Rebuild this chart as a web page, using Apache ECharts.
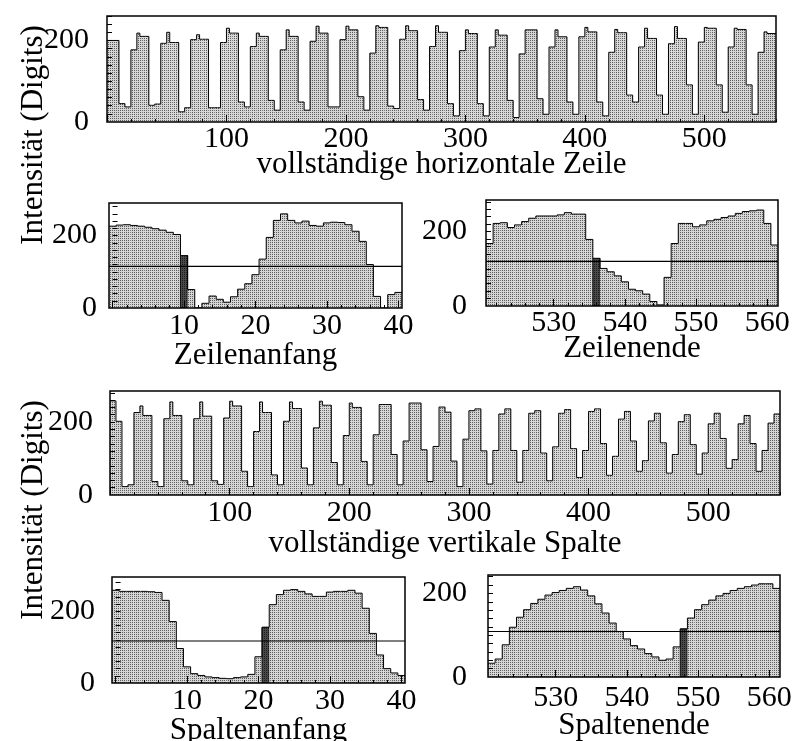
<!DOCTYPE html>
<html>
<head>
<meta charset="utf-8">
<script src="https://cdn.jsdelivr.net/npm/echarts@6/dist/echarts.min.js"></script>
<style>
  html, body { margin: 0; padding: 0; background: #fff; }
  #chart { width: 800px; height: 741px; }
</style>
</head>
<body>
<div id="chart"></div>
<script>
// ---------------------------------------------------------------
// Intensity profiles (digits) of a test pattern, CCD line / column
// ---------------------------------------------------------------

// full horizontal line, bins of 2.5 pixel columns (0 ... 560)
const zeileBinBreite = 2.5;
const zeileWerte = [
  200,200,200,200,45,45,37,37,
  177,177,218,210,210,210,41,41,44,44,
  193,193,220,195,195,195,25,25,35,35,
  202,202,214,203,203,203,35,35,35,35,
  195,195,230,218,218,218,49,49,37,37,
  185,185,218,210,210,210,53,53,29,29,
  177,177,226,210,210,210,49,49,29,29,
  198,198,235,218,218,218,37,37,37,37,
  202,202,235,226,226,226,62,62,29,29,
  169,169,236,232,232,232,39,39,33,33,
  203,203,236,224,224,224,55,55,29,29,
  185,185,236,220,220,220,45,45,15,15,
  175,175,226,217,217,217,45,45,15,15,
  184,184,226,213,213,213,53,53,11,11,
  167,167,226,226,226,226,57,57,19,19,
  184,184,226,209,209,209,49,49,19,19,
  209,209,232,221,221,221,49,49,15,15,
  171,171,227,219,219,219,66,66,49,49,
  184,184,230,205,205,205,66,66,19,19,
  192,192,234,205,205,205,91,91,19,19,
  196,196,232,230,230,230,91,91,24,24,
  184,184,230,227,227,227,91,91,19,19,
  171,171,221,217,217,217
];

// full vertical column, bins of 2.5 pixel rows (0 ... 560)
const spalteBinBreite = 2.5;
const spalteWerte = [
  258,258,202,202,23,23,28,28,
  226,226,244,218,218,218,37,37,23,23,
  209,209,255,218,218,218,39,39,28,28,
  209,209,255,216,216,216,39,39,29,29,
  211,211,257,244,244,244,65,65,23,23,
  174,174,255,226,226,226,55,55,28,28,
  202,202,255,237,237,237,74,74,28,28,
  184,184,257,246,246,246,89,89,28,28,
  163,163,252,240,240,240,92,92,28,28,
  165,165,248,248,248,248,111,111,28,28,
  148,148,252,252,252,252,124,124,37,37,
  133,133,241,241,227,227,93,93,23,23,
  153,153,231,231,236,236,121,121,30,30,
  122,122,222,222,236,236,122,122,35,35,
  122,122,224,224,231,231,115,115,39,39,
  132,132,224,224,234,234,127,127,48,48,
  122,122,229,229,236,236,141,141,54,54,
  106,106,208,208,229,229,148,148,65,65,
  94,94,203,203,224,224,143,143,60,60,
  111,111,201,201,220,220,138,138,57,57,
  115,115,195,195,224,224,155,155,73,73,
  97,97,195,195,218,218,141,141,65,65,
  122,122,197,197,222,222
];

// line start, pixels 0 ... 40 (one bin per pixel)
const zeilenanfangStart = 0;
const zeilenanfangWerte = [226,229,230,228,226,223,219,215,209,203,145,51,0,13,33,24,16,31,52,67,92,
  135,195,242,260,242,235,240,228,226,235,237,236,230,212,184,120,32,0,37,43];
const zeilenanfangKante = 10;      // detected edge pixel (index)
const zeilenanfangSchwelle = 115;

// line end, pixels 521 ... 561
const zeilenendeStart = 521;
const zeilenendeWerte = [168,222,224,211,218,227,236,242,242,242,245,251,247,247,179,128,101,92,81,65,45,
  41,32,12,3,77,168,222,222,213,218,229,233,238,242,249,254,256,258,222,164];
const zeilenendeKante = 15;
const zeilenendeSchwelle = 120;

// column start, pixels 0 ... 40
const spaltenanfangStart = 0;
const spaltenanfangWerte = [258,255,255,255,255,254,252,230,171,96,45,26,21,17,15,13,12,15,17,24,73,
  155,218,246,258,260,255,248,241,241,253,255,255,258,250,208,138,78,40,28,21];
const spaltenanfangKante = 21;
const spaltenanfangSchwelle = 117;

// column end, pixels 521 ... 561
const spaltenendeStart = 521;
const spaltenendeWerte = [33,43,77,119,143,161,176,186,196,202,207,212,216,208,194,175,153,129,109,91,75,
  67,56,48,40,43,72,115,141,161,173,184,194,200,207,212,216,220,223,223,212];
const spaltenendeKante = 27;
const spaltenendeSchwelle = 109;

// tick labels
const langLabels = [100, 200, 300, 400, 500];
const anfangLabels = [10, 20, 30, 40];
const endeLabels = [530, 540, 550, 560];
const yLabels = [0, 200];

// ---------------------------------------------------------------
const FONT = '"Liberation Serif", "Times New Roman", serif';

function stipple(bg, dot) {
  const c = document.createElement('canvas');
  c.width = 4; c.height = 4;
  const g = c.getContext('2d');
  g.fillStyle = bg; g.fillRect(0, 0, 4, 4);
  g.fillStyle = dot;
  g.fillRect(0, 0, 1, 1); g.fillRect(2, 2, 1, 1);
  g.fillRect(2, 0, 1, 1); g.fillRect(0, 2, 1, 1);
  return { image: c, repeat: 'repeat' };
}
const hellFill = stipple('#d4d4d4', '#5c5c5c');
const dunkelFill = stipple('#4a4a4a', '#1a1a1a');

function range(from, to, step) {
  const out = [];
  for (let v = from; v <= to + 1e-9; v += step) out.push(+v.toFixed(4));
  return out;
}

// histogram drawn as filled bins with a step outline
function histogram(axis, first, width, values, marked) {
  return {
    type: 'custom',
    coordinateSystem: 'cartesian2d',
    xAxisIndex: axis, yAxisIndex: axis,
    clip: true,
    silent: true,
    z: 1,
    data: values.map((v, i) => [first + i * width, v]),
    renderItem(params, api) {
      const i = params.dataIndex;
      const x = api.value(0), v = api.value(1);
      const h = width / 2;
      const tl = api.coord([x - h, v]);
      const br = api.coord([x + h, 0]);
      const kids = [{
        type: 'rect',
        shape: { x: tl[0], y: tl[1], width: br[0] - tl[0], height: br[1] - tl[1] },
        style: { fill: i === marked ? dunkelFill : hellFill, stroke: null }
      }, {
        type: 'line',
        shape: { x1: tl[0], y1: tl[1], x2: br[0], y2: tl[1] },
        style: { stroke: '#000', lineWidth: 1 }
      }];
      if (i > 0) {
        const p = api.coord([x - h, values[i - 1]]);
        kids.push({
          type: 'line',
          shape: { x1: tl[0], y1: p[1], x2: tl[0], y2: tl[1] },
          style: { stroke: '#000', lineWidth: 1 }
        });
      }
      if (i === marked) {
        kids.push({
          type: 'rect',
          shape: { x: tl[0], y: tl[1], width: br[0] - tl[0], height: br[1] - tl[1] },
          style: { fill: null, stroke: '#111', lineWidth: 1 }
        });
      }
      return { type: 'group', children: kids };
    }
  };
}

function schwelle(axis, xmin, xmax, t) {
  return {
    type: 'line', xAxisIndex: axis, yAxisIndex: axis, silent: true,
    symbol: 'none', z: 5,
    lineStyle: { color: '#000', width: 1.1 },
    data: [[xmin, t], [xmax, t]]
  };
}

const panels = [
  { grid: { left: 107, top: 16, width: 669, height: 106 }, x: [0, 560], y: [0, 260],
    labels: langLabels, major: range(0, 560, 100), minor: range(0, 560, 20),
    name: 'vollständige horizontale Zeile', gap: 27, lblMargin: 2, yMargin: 18 },
  { grid: { left: 109, top: 203, width: 293, height: 105 }, x: [-0.5, 40.5], y: [0, 290],
    labels: anfangLabels, major: range(0, 40, 10), minor: range(0, 40, 2),
    name: 'Zeilenanfang', gap: 32, lblMargin: 3, yMargin: 12 },
  { grid: { left: 486, top: 200, width: 292, height: 106 }, x: [520.5, 561.5], y: [0, 285],
    labels: endeLabels, major: range(530, 560, 10), minor: range(522, 560, 2),
    name: 'Zeilenende', gap: 27, lblMargin: 2, yMargin: 19 },
  { grid: { left: 110, top: 391, width: 670, height: 104 }, x: [0, 560], y: [0, 285],
    labels: langLabels, major: range(0, 560, 100), minor: range(0, 560, 20),
    name: 'vollständige vertikale Spalte', gap: 33, lblMargin: 3, yMargin: 17 },
  { grid: { left: 112, top: 577, width: 293, height: 106 }, x: [-0.5, 40.5], y: [0, 295],
    labels: anfangLabels, major: range(0, 40, 10), minor: range(0, 40, 2),
    name: 'Spaltenanfang', gap: 32, lblMargin: 3, yMargin: 17 },
  { grid: { left: 488, top: 575, width: 292, height: 102 }, x: [520.5, 561.5], y: [0, 244],
    labels: endeLabels, major: range(530, 560, 10), minor: range(522, 560, 2),
    name: 'Spaltenende', gap: 33, lblMargin: 6, yMargin: 21 }
];

const grids = [], xAxes = [], yAxes = [];
panels.forEach((p, k) => {
  grids.push(Object.assign({ show: true, borderColor: '#000', borderWidth: 1.5,
    backgroundColor: 'transparent', z: 8, outerBoundsMode: 'none', containLabel: false }, p.grid));
  xAxes.push({
    type: 'value', gridIndex: k, min: p.x[0], max: p.x[1], position: 'bottom', z: 10,
    splitLine: { show: false }, axisLine: { show: false },
    axisTick: { show: true, inside: true, length: 7, customValues: p.major,
      lineStyle: { color: '#000', width: 1 } },
    axisLabel: { customValues: p.labels, margin: p.lblMargin, color: '#000',
      fontFamily: FONT, fontSize: 30 },
    name: p.name, nameLocation: 'middle', nameGap: p.gap, nameMoveOverlap: false,
    nameTextStyle: { color: '#000', fontFamily: FONT, fontSize: 31 }
  });
  yAxes.push({
    type: 'value', gridIndex: k, min: p.y[0], max: p.y[1], z: 10,
    splitLine: { show: false }, axisLine: { show: false },
    axisTick: { show: true, inside: true, length: 5, customValues: range(20, p.y[1], 20),
      lineStyle: { color: '#000', width: 1 } },
    axisLabel: { customValues: yLabels, margin: p.yMargin, color: '#000',
      fontFamily: FONT, fontSize: 30, padding: [6, 0, 0, 0] }
  });
});
// second set of x axes: minor ticks only
panels.forEach((p, k) => {
  xAxes.push({
    type: 'value', gridIndex: k, min: p.x[0], max: p.x[1], position: 'bottom', z: 10,
    splitLine: { show: false }, axisLine: { show: false },
    axisLabel: { show: false },
    axisTick: { show: true, inside: true, length: 3, customValues: p.minor,
      lineStyle: { color: '#000', width: 1 } }
  });
});

const series = [
  histogram(0, zeileBinBreite / 2, zeileBinBreite, zeileWerte, -1),
  histogram(1, zeilenanfangStart, 1, zeilenanfangWerte, zeilenanfangKante),
  histogram(2, zeilenendeStart, 1, zeilenendeWerte, zeilenendeKante),
  histogram(3, spalteBinBreite / 2, spalteBinBreite, spalteWerte, -1),
  histogram(4, spaltenanfangStart, 1, spaltenanfangWerte, spaltenanfangKante),
  histogram(5, spaltenendeStart, 1, spaltenendeWerte, spaltenendeKante),
  schwelle(1, panels[1].x[0], panels[1].x[1], zeilenanfangSchwelle),
  schwelle(2, panels[2].x[0], panels[2].x[1], zeilenendeSchwelle),
  schwelle(4, panels[4].x[0], panels[4].x[1], spaltenanfangSchwelle),
  schwelle(5, panels[5].x[0], panels[5].x[1], spaltenendeSchwelle)
];

const chart = echarts.init(document.getElementById('chart'), null, { renderer: 'canvas' });
chart.setOption({
  animation: false,
  backgroundColor: '#fff',
  grid: grids,
  xAxis: xAxes,
  yAxis: yAxes,
  series: series,
  graphic: [
    { type: 'text', x: 34, y: 135, rotation: Math.PI / 2,
      style: { text: 'Intensität (Digits)', fill: '#000', font: '31px ' + FONT,
        textAlign: 'center', textVerticalAlign: 'middle' } },
    { type: 'text', x: 34, y: 510, rotation: Math.PI / 2,
      style: { text: 'Intensität (Digits)', fill: '#000', font: '31px ' + FONT,
        textAlign: 'center', textVerticalAlign: 'middle' } }
  ]
});
</script>
</body>
</html>
